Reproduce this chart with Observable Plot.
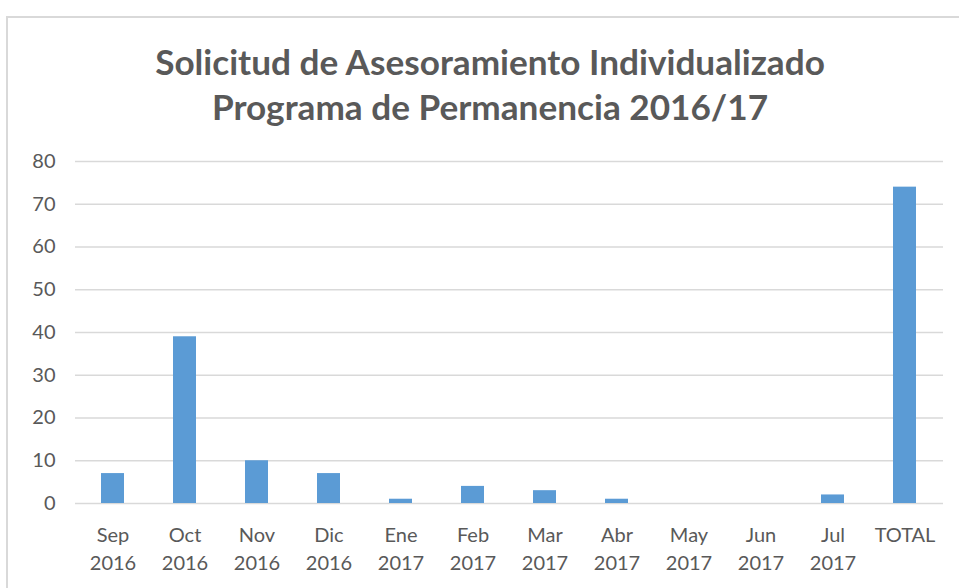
<!DOCTYPE html>
<html>
<head>
<meta charset="utf-8">
<script src="https://cdn.jsdelivr.net/npm/d3@7"></script>
<script src="https://cdn.jsdelivr.net/npm/@observablehq/plot@0.6"></script>
<style>
  html, body { margin: 0; padding: 0; background: #fff; width: 959px; height: 588px; overflow: hidden; }
  #frame { position: absolute; left: 6px; top: 16px; width: 1000px; height: 1000px; border: 2px solid #d9d9d9; box-sizing: border-box; }
  #title { position: absolute; left: 0; top: 39px; width: 980px; text-align: center; font-family: Lato, sans-serif; font-weight: 700; color: #595959; line-height: 45px; font-size: 32px; }
  #title span { white-space: nowrap; }
  #chart { position: absolute; left: 0; top: 140px; }
</style>
</head>
<body>
<div id="frame"></div>
<div id="title"><span id="t1">Solicitud de Asesoramiento Individualizado</span><br><span id="t2">Programa de Permanencia 2016/17</span></div>
<div id="chart"></div>
<script>
const months = ["Sep", "Oct", "Nov", "Dic", "Ene", "Feb", "Mar", "Abr", "May", "Jun", "Jul", "TOTAL"];
const years = ["2016", "2016", "2016", "2016", "2017", "2017", "2017", "2017", "2017", "2017", "2017", ""];
const values = [7, 39, 10, 7, 1, 4, 3, 1, 0, 0, 2, 74];
const yTicks = [0, 10, 20, 30, 40, 50, 60, 70, 80];

const labels = months.map((m, i) => years[i] ? m + "\n" + years[i] : m);
const data = labels.map((l, i) => ({label: l, value: values[i]}));

// fit title width
const t1 = document.getElementById("t1");
const w = t1.getBoundingClientRect().width;
if (w > 0) document.getElementById("title").style.fontSize = (32 * 670 / w) + "px";

const chart = Plot.plot({
  width: 959,
  height: 448,
  marginTop: 21,
  marginBottom: 85,
  marginLeft: 75,
  marginRight: 16,
  style: {fontFamily: "Lato, sans-serif", fontSize: "20px", color: "#595959", background: "transparent"},
  x: {domain: labels, paddingInner: 0.68, paddingOuter: 0.34, label: null},
  y: {domain: [0, 80], label: null},
  marks: [
    Plot.gridY(yTicks, {stroke: "#d9d9d9", strokeOpacity: 1, strokeWidth: 1.5}),
    Plot.barY(data, {x: "label", y: "value", fill: "#5b9bd5"}),
    Plot.axisY(yTicks, {tickSize: 0, tickPadding: 20, fill: "#595959", fontSize: 20, label: null}),
    Plot.axisX({tickSize: 0, tickPadding: 19, fill: "#595959", fontSize: 20, lineHeight: 1.4, label: null})
  ]
});
document.getElementById("chart").appendChild(chart);
</script>
</body>
</html>
